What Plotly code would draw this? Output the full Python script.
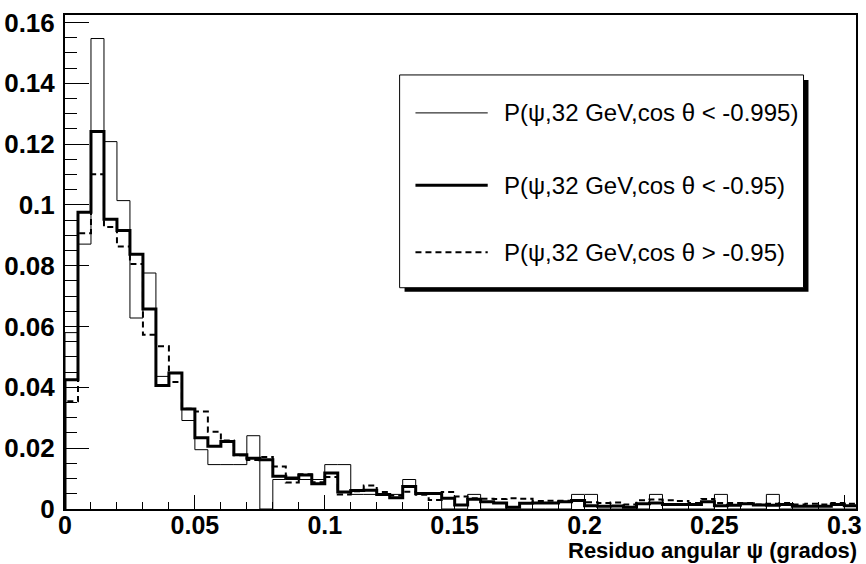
import plotly.graph_objects as go

# ---- data ----
bin_width = 0.005
n_bins = 61

thin_vals = [0.0580, 0.0871, 0.1547, 0.1208, 0.1014, 0.0628, 0.0776, 0.0436, 0.0449, 0.0291,
             0.0195, 0.0146, 0.0146, 0.0146, 0.0241, 0.0000, 0.0097, 0.0097, 0.0097, 0.0097,
             0.0146, 0.0146, 0.0048, 0.0048, 0.0048, 0.0048, 0.0097, 0.0048, 0.0048, 0.0000,
             0.0000, 0.0048, 0.0000, 0.0000, 0.0000, 0.0000, 0.0000, 0.0000, 0.0000, 0.0048,
             0.0048, 0.0000, 0.0000, 0.0000, 0.0000, 0.0048, 0.0000, 0.0000, 0.0000, 0.0000,
             0.0048, 0.0000, 0.0000, 0.0000, 0.0048, 0.0000, 0.0000, 0.0000, 0.0000, 0.0000,
             0.0000]

thick_vals = [0.0425, 0.0976, 0.1241, 0.0953, 0.0916, 0.0838, 0.0658, 0.0406, 0.0447, 0.0329,
              0.0234, 0.0206, 0.0222, 0.0178, 0.0167, 0.0162, 0.0108, 0.0102, 0.0112, 0.0083,
              0.0118, 0.0056, 0.0061, 0.0062, 0.0048, 0.0037, 0.0074, 0.0051, 0.0051, 0.0035,
              0.0013, 0.0032, 0.0024, 0.0020, 0.0006, 0.0019, 0.0020, 0.0020, 0.0024, 0.0028,
              0.0011, 0.0009, 0.0010, 0.0006, 0.0017, 0.0020, 0.0015, 0.0015, 0.0015, 0.0024,
              0.0011, 0.0012, 0.0017, 0.0013, 0.0012, 0.0015, 0.0009, 0.0009, 0.0009, 0.0015,
              0.0011]

dash_vals = [0.0354, 0.0907, 0.1101, 0.0927, 0.0863, 0.0806, 0.0573, 0.0535, 0.0418, 0.0330,
             0.0321, 0.0254, 0.0225, 0.0177, 0.0161, 0.0171, 0.0140, 0.0087, 0.0114, 0.0088,
             0.0105, 0.0048, 0.0058, 0.0077, 0.0056, 0.0044, 0.0057, 0.0047, 0.0030, 0.0056,
             0.0041, 0.0035, 0.0034, 0.0033, 0.0035, 0.0034, 0.0026, 0.0027, 0.0027, 0.0027,
             0.0022, 0.0020, 0.0021, 0.0015, 0.0029, 0.0031, 0.0029, 0.0026, 0.0020, 0.0033,
             0.0020, 0.0020, 0.0020, 0.0015, 0.0017, 0.0020, 0.0015, 0.0017, 0.0015, 0.0020,
             0.0017]

series_names = ["P(ψ,32 GeV,cos θ < -0.995)",
                "P(ψ,32 GeV,cos θ < -0.95)",
                "P(ψ,32 GeV,cos θ > -0.95)"]

x_tick_vals = [0, 0.05, 0.1, 0.15, 0.2, 0.25, 0.3]
x_tick_text = ["0", "0.05", "0.1", "0.15", "0.2", "0.25", "0.3"]
y_tick_vals = [0, 0.02, 0.04, 0.06, 0.08, 0.1, 0.12, 0.14, 0.16]
y_tick_text = ["0", "0.02", "0.04", "0.06", "0.08", "0.1", "0.12", "0.14", "0.16"]
x_title = "Residuo angular ψ (grados)"

x_max = 0.3045
y_max = max(thin_vals) * 1.05

edges = [i * bin_width for i in range(n_bins + 1)]


def step(vals):
    xs = [edges[0]] + edges
    ys = [0] + list(vals) + [vals[-1]]
    return xs, ys


styles = [dict(color="black", width=1),
          dict(color="black", width=3),
          dict(color="black", width=2, dash="6px,4px")]

fig = go.Figure()
for vals, name, st in zip([thin_vals, thick_vals, dash_vals], series_names, styles):
    xs, ys = step(vals)
    fig.add_trace(go.Scatter(x=xs, y=ys, mode="lines", line=dict(shape="hv", **st),
                             name=name, showlegend=False, hoverinfo="skip"))

# ---- legend drawn ROOT-like (box with shadow) ----
lx0, lx1, ly0, ly1 = 401, 809, 75, 288   # pixels
W, H = 866, 564
ml, mr, mt, mb = 63, 4, 15, 54.5
pw, ph = W - ml - mr, H - mt - mb


def px(x):
    return (x - ml) / pw


def py(y):
    return 1 - (y - mt) / ph


shapes = []
shapes.append(dict(type="rect", xref="paper", yref="paper",
                   x0=px(lx0 + 5), x1=px(lx1 + 5), y0=py(ly1 + 4), y1=py(ly0 + 5),
                   fillcolor="black", line=dict(width=0), layer="above"))
shapes.append(dict(type="rect", xref="paper", yref="paper",
                   x0=px(lx0), x1=px(lx1), y0=py(ly1), y1=py(ly0),
                   fillcolor="white", line=dict(color="black", width=1), layer="above"))
rows = [113, 185.5, 252.5]
annotations = []
for r, name, st in zip(rows, series_names, styles):
    shapes.append(dict(type="line", xref="paper", yref="paper",
                       x0=px(417), x1=px(490), y0=py(r), y1=py(r),
                       line=st, layer="above"))
    annotations.append(dict(xref="paper", yref="paper", x=px(504), y=py(r), text=name,
                            showarrow=False, xanchor="left", yanchor="middle",
                            font=dict(family="Liberation Sans, Arial", size=24, color="black")))

annotations.append(dict(xref="paper", yref="paper", x=px(865), y=py(551), text="<b>" + x_title + "</b>",
                        showarrow=False, xanchor="right", yanchor="middle",
                        font=dict(family="Liberation Sans, Arial", size=22, color="black")))

fig.update_layout(
    width=W, height=H,
    margin=dict(l=ml, r=mr, t=mt, b=mb, pad=0),
    paper_bgcolor="white", plot_bgcolor="white",
    shapes=shapes, annotations=annotations,
    font=dict(family="Liberation Sans, Arial", color="black"),
    showlegend=False,
)
fig.update_xaxes(range=[0, x_max], tickvals=x_tick_vals, ticktext=x_tick_text,
                 ticks="inside", ticklen=14, tickwidth=1, tickcolor="black",
                 minor=dict(ticks="inside", ticklen=7, dtick=0.01, tick0=0, tickcolor="black", tickwidth=1),
                 showline=True, linecolor="black", linewidth=2, mirror=True,
                 showgrid=False, zeroline=False, ticklabelstandoff=-7, ticklabeloverflow="allow",
                 tickfont=dict(family="Liberation Sans, Arial", size=25, weight="bold"))
fig.update_yaxes(range=[0, y_max], tickvals=y_tick_vals, ticktext=y_tick_text,
                 ticks="inside", ticklen=24, tickwidth=1, tickcolor="black",
                 minor=dict(ticks="inside", ticklen=12, dtick=0.005, tick0=0, tickcolor="black", tickwidth=1),
                 showline=True, linecolor="black", linewidth=2, mirror=True,
                 showgrid=False, zeroline=False, ticklabelstandoff=3, ticklabeloverflow="allow",
                 tickfont=dict(family="Liberation Sans, Arial", size=26, weight="bold"))

fig.write_html("out.html", config={"displayModeBar": False},
               post_script="document.body.style.margin='0';document.body.style.overflow='hidden';")
